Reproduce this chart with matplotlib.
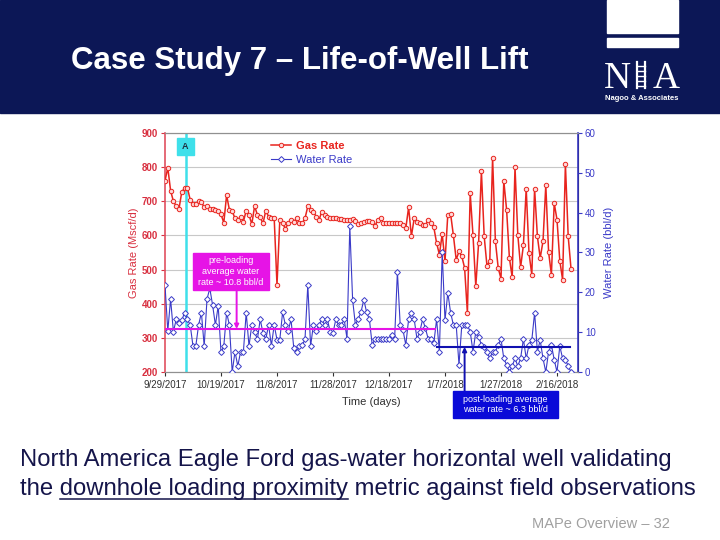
import pandas as pd
import matplotlib
matplotlib.use("Agg")
import matplotlib.pyplot as plt
from matplotlib.patches import Rectangle
from matplotlib.lines import Line2D

plt.rcParams['font.family'] = ['Liberation Sans', 'DejaVu Sans']

# daily readings starting 9/29/2017
gas_rate = [760, 798, 731, 700, 686, 678, 728, 738, 740, 704,
            693, 692, 700, 698, 682, 685, 678, 676, 674, 672,
            662, 637, 718, 675, 671, 650, 645, 655, 640, 673,
            660, 633, 686, 660, 653, 635, 673, 655, 650, 650,
            455, 645, 635, 620, 635, 645, 640, 650, 637, 635,
            650, 685, 675, 670, 655, 645, 670, 660, 653, 652,
            650, 650, 648, 647, 646, 645, 645, 647, 641, 634,
            637, 640, 642, 643, 638, 628, 645, 652, 637, 636,
            636, 635, 636, 635, 637, 630, 621, 682, 598, 650,
            640, 635, 632, 630, 645, 635, 624, 578, 544, 604,
            524, 661, 663, 600, 529, 553, 539, 505, 373, 724,
            600, 451, 578, 788, 597, 510, 526, 827, 583, 505,
            473, 760, 675, 534, 477, 800, 602, 507, 571, 737,
            548, 485, 736, 597, 534, 583, 747, 551, 485, 695,
            646, 526, 470, 809, 597, 503]

water_rate = [21.8, 10.3, 18.3, 10.1, 13.2, 12.2, 13.0, 14.9, 13.2, 11.8,
              6.5, 6.5, 11.8, 14.9, 6.5, 18.3, 21.0, 16.8, 11.8, 16.6,
              4.9, 6.5, 14.9, 11.8, 0.0, 5.1, 1.5, 5.1, 5.1, 14.9,
              6.5, 11.8, 10.1, 8.2, 13.2, 9.8, 8.2, 11.8, 6.6, 11.8,
              8.1, 8.1, 15.0, 11.8, 10.3, 13.2, 6.0, 4.9, 6.5, 6.7,
              8.2, 21.9, 6.5, 11.8, 10.3, 11.8, 13.2, 11.8, 13.2, 10.1,
              9.8, 13.2, 11.8, 11.8, 13.2, 8.4, 36.6, 18.2, 11.8, 13.4,
              15.0, 18.2, 15.0, 13.2, 6.8, 8.3, 8.3, 8.3, 8.3, 8.3,
              8.3, 9.3, 8.3, 25.2, 11.8, 10.5, 6.8, 13.2, 14.9, 13.2,
              8.3, 10.1, 13.2, 11.0, 8.3, 8.3, 7.2, 13.2, 5.1, 30.0,
              13.0, 19.9, 14.9, 11.8, 11.8, 1.8, 11.8, 11.8, 11.8, 10.1,
              5.1, 10.1, 8.9, 6.8, 6.4, 5.1, 3.4, 5.1, 5.1, 6.8,
              8.3, 3.4, 1.8, 0.0, 1.5, 3.4, 1.5, 3.4, 8.3, 3.4,
              6.8, 8.0, 14.9, 5.1, 8.0, 3.4, 0.0, 5.1, 6.8, 3.1,
              0.0, 6.5, 3.4, 3.1, 1.5, 0.0]

start_date = "2017-09-29"
end_axis = "2018-02-23 12:00"
tick_dates = ["2017-09-29", "2017-10-19", "2017-11-08", "2017-11-28",
              "2017-12-18", "2018-01-07", "2018-01-27", "2018-02-16"]
gas_ticks = [200, 300, 400, 500, 600, 700, 800, 900]
water_ticks = [0, 10, 20, 30, 40, 50, 60]

event_a = "2017-10-06 10:00"
pre_avg = 10.8
pre_span = ["2017-09-29 00:00", "2018-01-03 10:00"]
pre_arrow = "2017-10-24 14:00"
post_avg = 6.3
post_span = ["2018-01-04 00:00", "2018-02-20 14:00"]
post_arrow = "2018-01-14 00:00"

navy = '#0c1756'
red = '#e8241e'
blue = '#3a3ac8'
magenta = '#e614e6'
cyan = '#3ee0ea'
dblue = '#0a0ad8'

dates = pd.date_range(start_date, periods=len(gas_rate), freq="D")
W, H = 720, 540


def fx(x):
    return x / W


def fy(y):
    return 1 - y / H


def ts(s):
    return [pd.Timestamp(v) for v in s]


fig = plt.figure(figsize=(7.2, 5.4), dpi=100)

# header band + title
fig.add_artist(Rectangle((0, fy(113)), 1, 113 / H, transform=fig.transFigure,
                         color=navy, zorder=0))
fig.text(fx(71), fy(69), "Case Study 7 \u2013 Life-of-Well Lift", color='white',
         fontsize=22.5, fontweight='bold', va='baseline', ha='left')

# logo
fig.add_artist(Rectangle((fx(607), fy(33)), 71 / W, 33 / H, transform=fig.transFigure,
                         color='white', zorder=1))
fig.add_artist(Rectangle((fx(607), fy(47)), 71 / W, 9 / H, transform=fig.transFigure,
                         color='white', zorder=1))
fig.text(fx(604), fy(88), "N", color='white', fontsize=27, family='Liberation Serif',
         va='baseline', ha='left')
fig.text(fx(680), fy(88), "A", color='white', fontsize=27, family='Liberation Serif',
         va='baseline', ha='right')
for xr in (637, 645):
    fig.add_artist(Line2D([fx(xr), fx(xr)], [fy(62), fy(88)], transform=fig.transFigure,
                          color='white', lw=1.6))
for yr in range(66, 88, 5):
    fig.add_artist(Line2D([fx(637), fx(645)], [fy(yr), fy(yr)], transform=fig.transFigure,
                          color='white', lw=1))
fig.text(fx(642), fy(99), "Nagoo & Associates", color='white', fontsize=5.5,
         fontweight='bold', ha='center', va='center')

# chart
ax = fig.add_axes([fx(165), fy(372), (578 - 165) / W, (372 - 133) / H])
ax2 = ax.twinx()

l1, = ax.plot(dates, gas_rate, color=red, lw=1.1, marker='o', ms=3.2,
              mfc='#ffd8d8', mec=red, mew=0.7, zorder=3)
l2, = ax2.plot(dates, water_rate, color=blue, lw=0.8, marker='D', ms=3.0,
               mfc='white', mec=blue, mew=0.7, zorder=3)

ax.set_xlim(pd.Timestamp(start_date), pd.Timestamp(end_axis))
ax.set_ylim(200, 900)
ax2.set_ylim(0, 60)
ax.set_yticks(gas_ticks)
ax2.set_yticks(water_ticks)
ax.set_xticks(ts(tick_dates))
ax.set_xticklabels([f"{d.month}/{d.day}/{d.year}" for d in ts(tick_dates)])
ax.grid(axis='y', color='#c8c8c8', lw=0.8)
ax.set_axisbelow(True)

ax.tick_params(axis='y', colors='#d83040', labelsize=7, length=3, pad=2)
for t in ax.get_yticklabels():
    t.set_fontweight('bold')
ax.tick_params(axis='x', labelsize=7, colors='#303030', length=3, pad=3)
ax2.tick_params(axis='y', colors=blue, labelsize=7, length=3, pad=2)
ax.spines['left'].set_color('#e05060')
ax.spines['left'].set_linewidth(1.2)
ax2.spines['right'].set_color(blue)
ax2.spines['right'].set_linewidth(1.2)
ax2.spines['left'].set_visible(False)
for a in (ax, ax2):
    a.spines['top'].set_color('#909090')
    a.spines['bottom'].set_color('#909090')

ax.set_ylabel("Gas Rate (Mscf/d)", color='#d83040', fontsize=8, labelpad=2)
ax2.set_ylabel("Water Rate (bbl/d)", color=blue, fontsize=8, labelpad=6)
ax.set_xlabel("Time (days)", fontsize=8, color='#303030', labelpad=5)

leg = ax2.legend([l1, l2], ["Gas Rate", "Water Rate"], loc='upper left',
                 bbox_to_anchor=(0.245, 0.985), frameon=False, fontsize=8,
                 handlelength=1.8, labelspacing=0.35, borderaxespad=0, handletextpad=0.5)
leg.get_texts()[0].set_color(red)
leg.get_texts()[0].set_fontweight('bold')
leg.get_texts()[1].set_color(blue)

# event A
ax.axvline(pd.Timestamp(event_a), color=cyan, lw=1.8, zorder=2)
fig.add_artist(Rectangle((fx(177), fy(155)), 17 / W, 17 / H, transform=fig.transFigure,
                         color=cyan, zorder=5))
fig.text(fx(185.5), fy(146.5), "A", fontsize=6.5, fontweight='bold', color='#203040',
         ha='center', va='center', zorder=6)

# pre-loading average
ax2.plot(ts(pre_span), [pre_avg, pre_avg], color=magenta, lw=1.5, zorder=4)
ax2.annotate("", xy=(pd.Timestamp(pre_arrow), pre_avg), xytext=(pd.Timestamp(pre_arrow), 20.6),
             arrowprops=dict(arrowstyle='-|>', color=magenta, lw=1.4, mutation_scale=6,
                             shrinkA=0, shrinkB=0), zorder=4)
fig.add_artist(Rectangle((fx(193), fy(290)), 76 / W, 37 / H, transform=fig.transFigure,
                         color=magenta, zorder=5))
fig.text(fx(231), fy(271.5), "pre-loading\naverage water\nrate ~ 10.8 bbl/d", color='white',
         fontsize=6.5, ha='center', va='center', linespacing=1.25, zorder=6)

# post-loading average
ax2.plot(ts(post_span), [post_avg, post_avg], color='#1010b0', lw=1.5, zorder=4)
ax2.annotate("", xy=(pd.Timestamp(post_arrow), post_avg), xytext=(pd.Timestamp(post_arrow), -5.5),
             arrowprops=dict(arrowstyle='-|>', color='#1010b0', lw=1.4, mutation_scale=6,
                             shrinkA=0, shrinkB=0), zorder=4, annotation_clip=False)
fig.add_artist(Rectangle((fx(453), fy(418)), 105 / W, 27 / H, transform=fig.transFigure,
                         color=dblue, zorder=5))
fig.text(fx(505.5), fy(404.5), "post-loading average\nwater rate ~ 6.3 bbl/d", color='white',
         fontsize=6.5, ha='center', va='center', linespacing=1.25, zorder=6)

# caption
txt_color = '#15154a'
cap_size = 17.2
fig.text(fx(20), fy(466), "North America Eagle Ford gas-water horizontal well validating",
         fontsize=cap_size, color=txt_color, va='baseline')
line2 = "the downhole loading proximity metric against field observations"
fig.text(fx(20), fy(495), line2, fontsize=cap_size, color=txt_color, va='baseline')

# underline "downhole loading proximity"
fig.canvas.draw()
r = fig.canvas.get_renderer()


def width(s):
    t = fig.text(0, 0, s, fontsize=cap_size)
    w = t.get_window_extent(r).width
    t.remove()
    return w


x0 = 20 + width("the d") - width("d")
x1 = 20 + width("the downhole loading proximity")
fig.add_artist(Line2D([fx(x0), fx(x1)], [fy(499), fy(499)], transform=fig.transFigure,
                      color=txt_color, lw=1.1))

fig.text(fx(670), fy(528), "MAPe Overview \u2013 32", fontsize=10.5, color='#a0a0a0',
         ha='right', va='baseline')

fig.savefig("out.png", dpi=100)
